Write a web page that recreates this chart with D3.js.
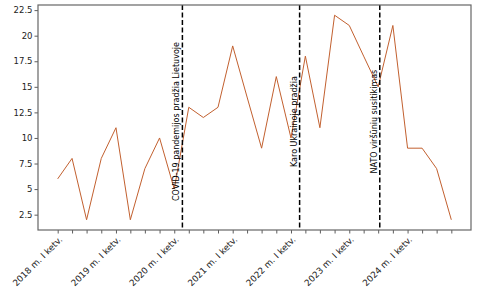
<!DOCTYPE html>
<html>
<head>
<meta charset="utf-8">
<script src="https://cdn.jsdelivr.net/npm/d3@7"></script>
<style>
  html, body { margin: 0; padding: 0; background: #fff; }
  svg { display: block; }
  text { font-family: "DejaVu Sans", sans-serif; fill: #222; }
</style>
</head>
<body>
<svg id="chart" width="477" height="289"></svg>
<script>
// ---- data ----
const quarters = [
  "2018-01-01","2018-04-01","2018-07-01","2018-10-01",
  "2019-01-01","2019-04-01","2019-07-01","2019-10-01",
  "2020-01-01","2020-04-01","2020-07-01","2020-10-01",
  "2021-01-01","2021-04-01","2021-07-01","2021-10-01",
  "2022-01-01","2022-04-01","2022-07-01","2022-10-01",
  "2023-01-01","2023-04-01","2023-07-01","2023-10-01",
  "2024-01-01","2024-04-01","2024-07-01","2024-10-01"
];
const values = [6, 8, 2, 8, 11, 2, 7, 10, 5, 13, 12, 13, 19, 14, 9, 16, 10, 18, 11, 22, 21, 18, 15, 21, 9, 9, 7, 2];
const tickLabelDates = ["2018-01-01","2019-01-01","2020-01-01","2021-01-01","2022-01-01","2023-01-01","2024-01-01"];
const tickLabels = ["2018 m. I ketv.","2019 m. I ketv.","2020 m. I ketv.","2021 m. I ketv.","2022 m. I ketv.","2023 m. I ketv.","2024 m. I ketv."];
const eventDates = ["2020-02-21","2022-02-24","2023-07-11"];
const eventLabels = ["COVID-19 pandemijos pradžia Lietuvoje","Karo Ukrainoje pradžia","NATO viršūnių susitikimas"];
const yTicks = [2.5, 5, 7.5, 10, 12.5, 15, 17.5, 20, 22.5];

// ---- layout ----
const plot = { left: 38, right: 471, top: 5, bottom: 230 };
const parse = d3.utcParse("%Y-%m-%d");
const dates = quarters.map(parse);
const data = dates.map((d, i) => ({ d, v: values[i] }));

const tMin = +dates[0], tMax = +dates[dates.length - 1];
const pad = (tMax - tMin) * 0.05;
const x = d3.scaleUtc()
  .domain([new Date(tMin - pad), new Date(tMax + pad)])
  .range([plot.left, plot.right]);
const vMin = d3.min(values), vMax = d3.max(values);
const vPad = (vMax - vMin) * 0.05;
const y = d3.scaleLinear()
  .domain([vMin - vPad, vMax + vPad])
  .range([plot.bottom, plot.top]);

const svg = d3.select("#chart");

// line
svg.append("path")
  .datum(data)
  .attr("fill", "none")
  .attr("stroke", "#c2602f")
  .attr("stroke-width", 1)
  .attr("stroke-linejoin", "round")
  .attr("d", d3.line().x(d => x(d.d)).y(d => y(d.v)));

// event lines + labels
eventDates.forEach((ds, i) => {
  const ex = x(parse(ds));
  svg.append("line")
    .attr("x1", ex).attr("x2", ex)
    .attr("y1", plot.top).attr("y2", plot.bottom)
    .attr("stroke", "#000")
    .attr("stroke-width", 1.5)
    .attr("stroke-dasharray", "5,2.5");
  const cy = y(11.6);
  svg.append("text")
    .attr("transform", `translate(${ex - 3},${cy}) rotate(-90)`)
    .attr("text-anchor", "middle")
    .style("font-size", "8px")
    .style("fill", "#000")
    .text(eventLabels[i]);
});

// x axis (ticks at every quarter, labels only at year starts)
const xAxis = d3.axisBottom(x)
  .tickValues(dates)
  .tickSize(3.5)
  .tickFormat("");
const gx = svg.append("g")
  .attr("transform", `translate(0,${plot.bottom})`)
  .call(xAxis);
gx.select(".domain").remove();
gx.selectAll(".tick line").attr("stroke", "#333").attr("stroke-width", 0.8);

svg.append("g").selectAll("text")
  .data(tickLabelDates)
  .join("text")
  .attr("transform", (d) => `translate(${x(parse(d)) + 3},${plot.bottom + 8}) rotate(-45)`)
  .attr("text-anchor", "end")
  .attr("dy", "0.35em")
  .style("font-size", "8.8px")
  .style("fill", "#222")
  .text((d, i) => tickLabels[i]);

// y axis
const yAxis = d3.axisLeft(y).tickValues(yTicks).tickSize(3.5)
  .tickFormat(d => (Number.isInteger(d) ? d3.format("d")(d) : d3.format(".1f")(d)));
const gy = svg.append("g")
  .attr("transform", `translate(${plot.left},0)`)
  .call(yAxis);
gy.select(".domain").remove();
gy.selectAll(".tick line").attr("stroke", "#333").attr("stroke-width", 0.8);
gy.selectAll(".tick text").style("font-size", "8.5px").style("fill", "#222").attr("x", -5.5);

// frame
svg.append("rect")
  .attr("x", plot.left).attr("y", plot.top)
  .attr("width", plot.right - plot.left)
  .attr("height", plot.bottom - plot.top)
  .attr("fill", "none")
  .attr("stroke", "#666")
  .attr("stroke-width", 1.2);
</script>
</body>
</html>
